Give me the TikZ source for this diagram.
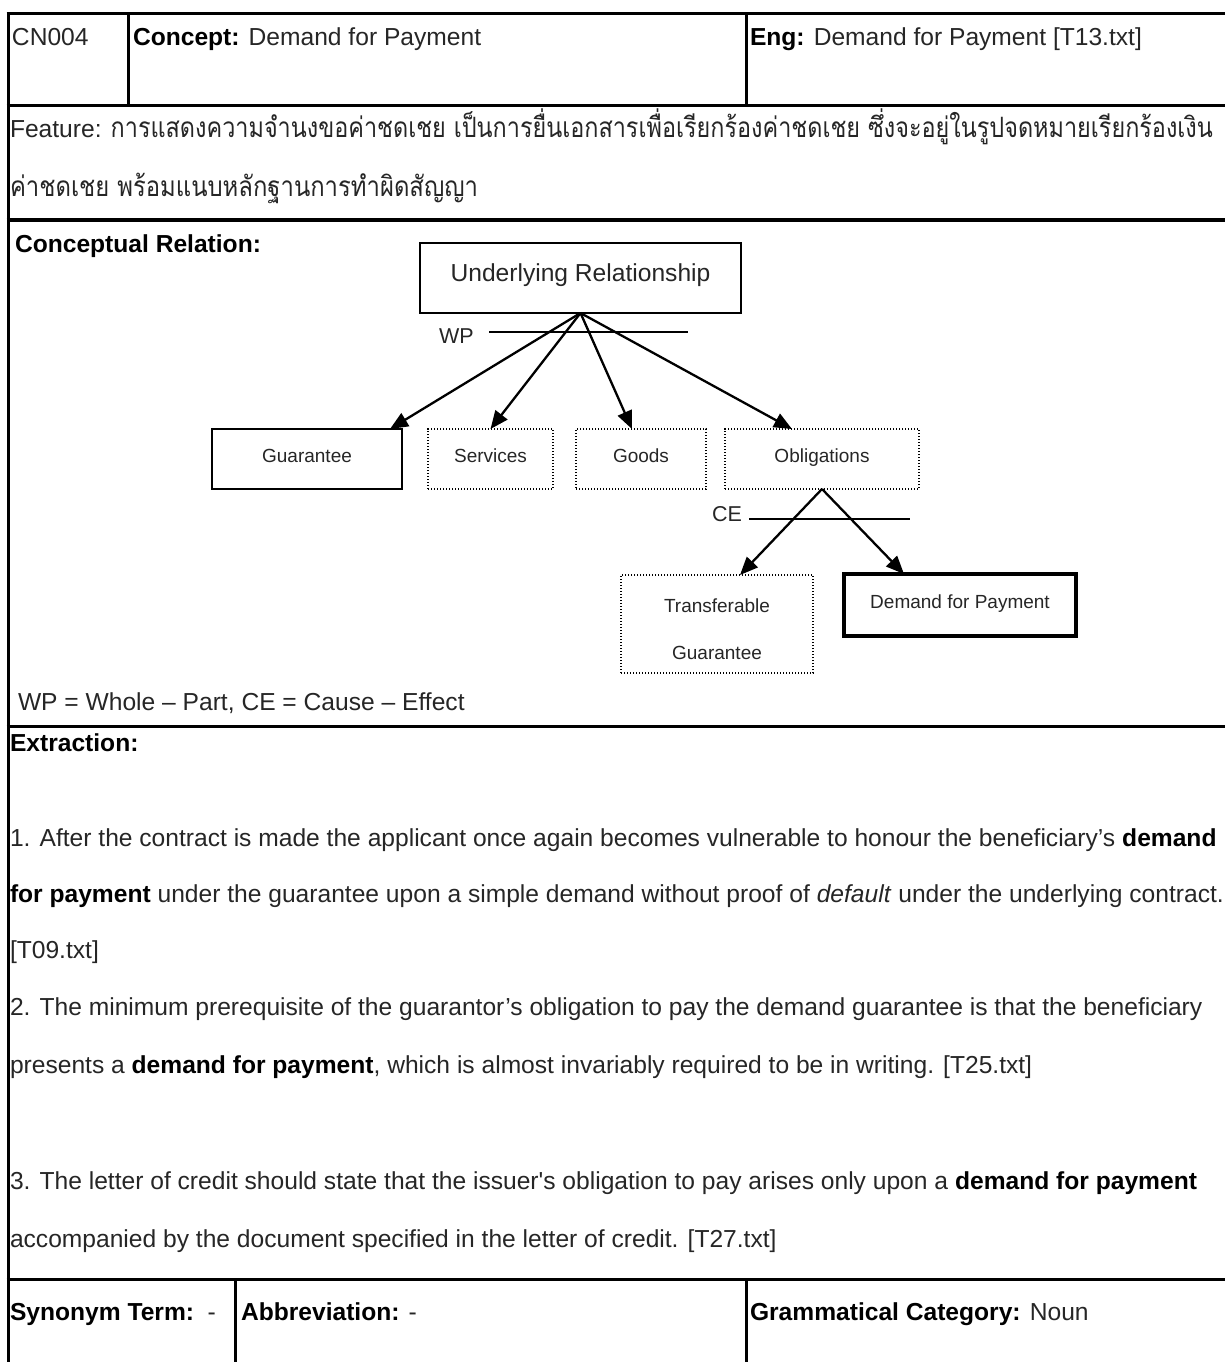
\documentclass[tikz,border=0pt]{standalone}
\usepackage{fontspec}
\usepackage{graphicx}
\setmainfont{Liberation Sans}
\newfontfamily\thaifont[Script=Thai]{Loma}
\usetikzlibrary{arrows.meta,calc}

% Thai run squeezed to a given width (in px units of the picture)
\newcommand\thaiw[2]{\resizebox{#1pt}{\height}{\fontsize{28}{30}\selectfont\thaifont #2}}

\begin{document}
\begin{tikzpicture}[x=1pt,y=-1pt,
  every node/.style={inner sep=0pt, outer sep=0pt},
  body/.style={anchor=base west, text=black!85, font=\fontsize{24.6}{28}\selectfont},
  rel/.style={anchor=base west, text=black!85, font=\fontsize{21.5}{24}\selectfont},
  rule/.style={line width=3pt},
  heavyrule/.style={line width=4pt},
  boxtext/.style={text=black!85, text height=0.72em, text depth=0pt},
  urbox/.style={draw, line width=1.6pt, boxtext, font=\fontsize{24.6}{28}\selectfont},
  solidbox/.style={draw, line width=2pt, boxtext, font=\fontsize{19}{22}\selectfont},
  dotframe/.style={draw, line width=1.4pt, dash pattern=on 1.4pt off 1.6pt},
  dotbox/.style={dotframe, boxtext, font=\fontsize{19}{22}\selectfont},
  keybox/.style={draw, line width=4pt, boxtext, font=\fontsize{19}{22}\selectfont},
  inlabel/.style={anchor=base, text=black!85, font=\fontsize{19}{22}\selectfont},
  arr/.style={line width=2.3pt, -{Triangle[length=18pt,width=15pt]}},
  bar/.style={line width=2pt}]

% page
\fill[white] (0,0) rectangle (1225,1362);
\useasboundingbox (0,0) rectangle (1225,1362);

% ---- table frame ----
\draw[rule] (8,12.5) -- (8,1362);
\draw[rule] (6.5,14) -- (1226,14);
\draw[rule] (6.5,106) -- (1226,106);
\draw[heavyrule] (6.5,220) -- (1226,220);
\draw[rule] (6.5,726) -- (1226,726);
\draw[rule] (6.5,1279) -- (1226,1279);
\draw[rule] (128,14) -- (128,106);
\draw[rule] (746,14) -- (746,106);
\draw[rule] (235,1279) -- (235,1362);
\draw[rule] (746,1279) -- (746,1362);

% ---- header row ----
\node[body] (cn) at (12,46) {CN004};
\node[body] (concept) at (133,46) {\textbf{\color{black}Concept:} Demand for Payment};
\node[body] (eng) at (750,46) {\textbf{\color{black}Eng:} Demand for Payment [T13.txt]};

% ---- feature ----
\node[body] (feat1) at (10,138) {Feature: \thaiw{1102}{การแสดงความจำนงขอค่าชดเชย เป็นการยื่นเอกสารเพื่อเรียกร้องค่าชดเชย ซึ่งจะอยู่ในรูปจดหมายเรียกร้องเงิน}};
\node[body] (feat2) at (10,196) {\thaiw{468}{ค่าชดเชย พร้อมแนบหลักฐานการทำผิดสัญญา}};

% ---- conceptual relation ----
\node[body] (crel) at (15,252) {\textbf{\color{black}Conceptual Relation:}};

\node[urbox, minimum width=321, minimum height=70] (ur) at (580.5,278) {Underlying Relationship};

\node[solidbox, minimum width=190, minimum height=60] (gu) at (307,459) {Guarantee};
\node[dotbox, minimum width=125, minimum height=60] (svc) at (490.5,459) {Services};
\node[dotbox, minimum width=130, minimum height=60] (goods) at (641,459) {Goods};
\node[dotbox, minimum width=194, minimum height=60] (obl) at (822,459) {Obligations};

\node[dotframe, minimum width=192, minimum height=98] (tg) at (717,624) {};
\node[inlabel] (tgA) at ($(tg.center)+(0,-12)$) {Transferable};
\node[inlabel] (tgB) at ($(tg.center)+(0,35)$) {Guarantee};
\node[keybox, minimum width=232, minimum height=62] (dfp) at (960,605) {Demand for Payment};

% whole-part fan
\coordinate (wpA) at (489,332);
\coordinate (wpB) at (688,332);
\draw[bar] (wpA) -- (wpB);
\node[rel] (wp) at (439,343) {WP};
\draw[arr] (ur.south) -- ($(gu.north east)+(-12,0)$);
\draw[arr] (ur.south) -- (svc.north);
\draw[arr] (ur.south) -- ($(goods.north)+(-9,0)$);
\draw[arr] (ur.south) -- ($(obl.north)+(-30,0)$);

% cause-effect fan
\coordinate (ceA) at (749,519);
\coordinate (ceB) at (910,519);
\draw[bar] (ceA) -- (ceB);
\node[rel] (ce) at (712,521) {CE};
\draw[arr] (obl.south) -- ($(tg.north)+(23,0)$);
\draw[arr] (obl.south) -- ($(dfp.north)+(-56,0)$);

\node[body] (legend) at (18,710) {WP = Whole – Part, CE = Cause – Effect};

% ---- extraction ----
\node[body] (ext) at (10,751) {\textbf{\color{black}Extraction:}};
\node[body] (x1a) at (10,846) {1. After the contract is made the applicant once again becomes vulnerable to honour the beneficiary’s \textbf{\color{black}demand}};
\node[body] (x1b) at (10,902) {\textbf{\color{black}for payment} under the guarantee upon a simple demand without proof of \textit{default} under the underlying contract.};
\node[body] (x1c) at (10,958) {[T09.txt]};
\node[body] (x2a) at (10,1015) {2. The minimum prerequisite of the guarantor’s obligation to pay the demand guarantee is that the beneficiary};
\node[body] (x2b) at (10,1073) {presents a \textbf{\color{black}demand for payment}, which is almost invariably required to be in writing. [T25.txt]};
\node[body] (x3a) at (10,1189) {3. The letter of credit should state that the issuer\textquotesingle s obligation to pay arises only upon a \textbf{\color{black}demand for payment}};
\node[body] (x3b) at (10,1247) {accompanied by the document specified in the letter of credit. [T27.txt]};

% ---- bottom row ----
\node[body] (syn) at (10,1320) {\textbf{\color{black}Synonym Term:}\ \ -};
\node[body] (abbr) at (241,1320) {\textbf{\color{black}Abbreviation:} -};
\node[body] (gram) at (750,1320) {\textbf{\color{black}Grammatical Category:} Noun};
\end{tikzpicture}
\end{document}
